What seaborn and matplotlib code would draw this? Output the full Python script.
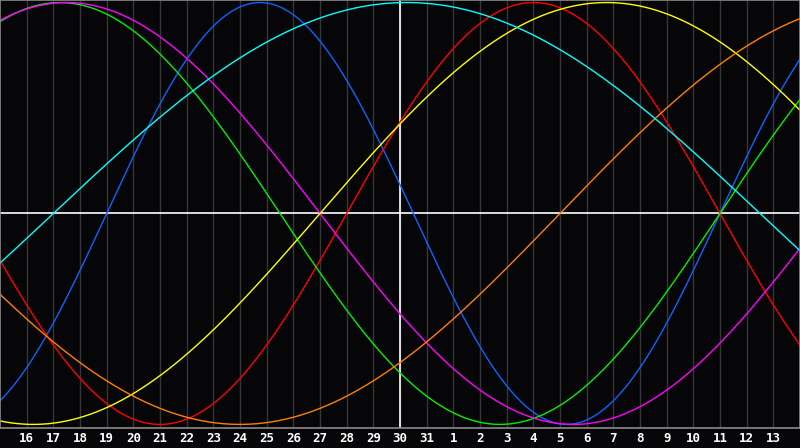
"""
Biorhythm chart: seven cycles over a 30-day window centred on today.
"""

import numpy as np
import pandas as pd
import matplotlib
matplotlib.use("Agg")
import matplotlib.pyplot as plt
import seaborn as sns

# ── Data ─────────────────────────────────────────────────────────────────────

cycles      = ["Physical", "Emotional", "Intellectual", "Intuitive",
               "Aesthetic", "Awareness", "Spiritual"]
periods     = [23, 28, 33, 38, 43, 48, 53]          # days per cycle
cycle_day   = [11, 2, 21, 22, 3, 42, 13]            # day within cycle on "today"
colors      = ["#0A64FF", "#FF0000", "#00F000", "#FF00FF",
               "#FFFF00", "#FF8000", "#00FFFF"]

window_days = 30                                     # offsets 0..30
today       = 15                                     # offset of today (the 30th)
day_labels  = ["16", "17", "18", "19", "20", "21", "22", "23", "24", "25",
               "26", "27", "28", "29", "30", "31", "1", "2", "3", "4",
               "5", "6", "7", "8", "9", "10", "11", "12", "13"]

# ── Build long-form table ────────────────────────────────────────────────────

t = np.linspace(0, window_days, 801)
rows = []
for name, p, d0 in zip(cycles, periods, cycle_day):
    phase = d0 + (t - today)
    rows.append(pd.DataFrame({"offset": t,
                              "value": np.sin(2 * np.pi * phase / p),
                              "cycle": name}))
df = pd.concat(rows, ignore_index=True)

# ── Plot ─────────────────────────────────────────────────────────────────────

sns.set_style("dark")
bg = "#060608"
fig = plt.figure(figsize=(8, 4.48), dpi=100, facecolor=bg)
ax = fig.add_axes([0, 1 - 428 / 448, 1, 428 / 448])
ax.set_facecolor(bg)

# day grid
for x in range(1, window_days):
    ax.axvline(x, color="#363636", lw=1.0, zorder=0)
ax.axvline(today, color="white", lw=1.2, zorder=1)
ax.axhline(0, color="white", lw=1.2, zorder=1)

sns.lineplot(data=df, x="offset", y="value", hue="cycle",
             palette=dict(zip(cycles, colors)), hue_order=cycles,
             linewidth=1.0, legend=False, ax=ax, zorder=2)

ax.set_xlim(0, window_days)
ax.set_ylim(-1.017, 1.012)
ax.set_xticks(range(1, window_days))
ax.set_xticklabels(day_labels)
ax.tick_params(axis="x", length=0, pad=3, colors="white", labelsize=9)
for lbl in ax.get_xticklabels():
    lbl.set_fontweight("bold")
    lbl.set_family("DejaVu Sans Mono")
ax.set_yticks([])
ax.set_xlabel("")
ax.set_ylabel("")
ax.grid(False)
for side in ["left", "right", "top", "bottom"]:
    ax.spines[side].set_visible(True)
    ax.spines[side].set_color("#8a8a8a")
    ax.spines[side].set_linewidth(1.2)

fig.savefig("out.png", dpi=100, facecolor=bg)
plt.close(fig)
